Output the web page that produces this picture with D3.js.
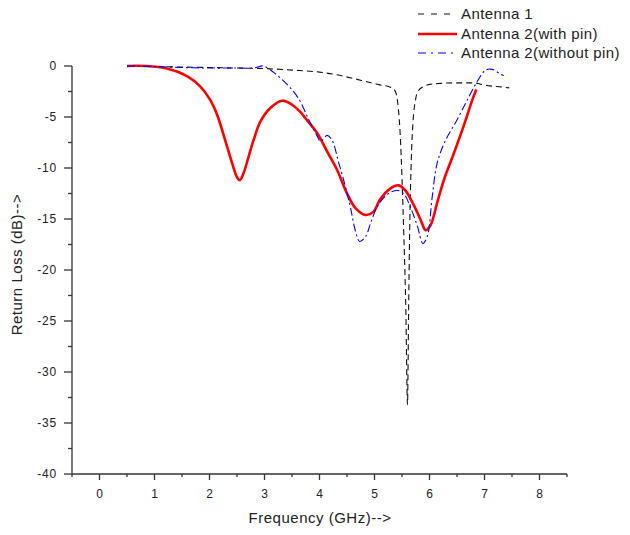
<!DOCTYPE html>
<html><head><meta charset="utf-8">
<script src="https://cdn.jsdelivr.net/npm/d3@7"></script>
<style>body{margin:0;background:#fff}svg{display:block}text{font-family:"Liberation Sans",Arial,sans-serif}</style>
</head><body><svg id="c" width="630" height="535"></svg>
<script>
const xTicks = [0,1,2,3,4,5,6,7,8];
const yTicks = [0,-5,-10,-15,-20,-25,-30,-35,-40];
const seriesNames = ["Antenna 1","Antenna 2(with pin)","Antenna 2(without pin)"];

const ant1Freq = [0.5,1.0,1.5,2.0,2.5,3.0,3.5,4.0,4.3,4.6,4.9,5.1,5.3,5.38,5.43,5.47,5.5,5.53,5.57,5.6,5.62,5.64,5.67,5.7,5.75,5.8,5.9,6.0,6.2,6.5,6.8,6.95,7.1,7.3,7.45];
const ant1Loss = [0,-0.05,-0.1,-0.15,-0.2,-0.25,-0.4,-0.6,-0.85,-1.2,-1.6,-1.85,-2.1,-2.5,-4,-7,-11,-16,-24,-33.2,-24,-16,-9,-5.5,-3.2,-2.4,-2.0,-1.8,-1.7,-1.65,-1.65,-1.8,-1.95,-2.05,-2.15];

const pinFreq = [0.5,0.83,1.23,1.59,1.83,2.01,2.14,2.23,2.32,2.41,2.5,2.55,2.62,2.71,2.8,2.92,3.11,3.32,3.5,3.65,3.77,3.96,4.14,4.32,4.5,4.65,4.84,4.98,5.1,5.29,5.44,5.56,5.71,5.84,5.93,6.02,6.14,6.26,6.44,6.62,6.78,6.85];
const pinLoss = [0,0,-0.25,-1.0,-2.0,-3.3,-4.8,-6.3,-7.9,-9.5,-10.9,-11.2,-10.5,-8.9,-7.3,-5.5,-4.1,-3.4,-3.8,-4.5,-5.3,-6.6,-8.4,-10.2,-12.5,-13.9,-14.6,-14.3,-13.1,-12.0,-11.7,-12.2,-13.6,-15.1,-16.1,-15.6,-13.4,-11.2,-8.6,-5.9,-3.3,-2.3];

const noPinFreq = [0.5,1.0,1.5,2.0,2.5,2.8,2.98,3.16,3.41,3.62,3.8,3.96,4.02,4.14,4.23,4.35,4.47,4.56,4.65,4.73,4.84,4.93,5.05,5.23,5.41,5.53,5.65,5.78,5.88,5.96,6.05,6.14,6.29,6.5,6.69,6.87,7.02,7.14,7.29,7.35];
const noPinLoss = [0,-0.05,-0.15,-0.2,-0.2,-0.2,0,-0.6,-1.8,-3.2,-5.2,-6.9,-7.4,-6.8,-7.3,-9.5,-11.8,-13.8,-16.1,-17.2,-16.7,-15.4,-13.8,-12.6,-12.2,-12.5,-13.8,-15.7,-17.4,-16.7,-12.8,-9.5,-7.3,-5.3,-3.3,-1.5,-0.4,-0.33,-0.8,-0.95];

const svg = d3.select("#c");
const x = d3.scaleLinear().domain([-0.5,8.5]).range([72,567]);
const y = d3.scaleLinear().domain([-40,0]).range([474,66]);
const axisColor = "#333";

// X axis
const xa = svg.append("g").attr("transform","translate(0,474)");
xa.append("line").attr("x1",72).attr("x2",567).attr("stroke",axisColor).attr("stroke-width",1.3);
const xMinor = d3.range(-0.5,8.51,0.5).filter(v=>Math.abs(v-Math.round(v))>0.01);
xa.selectAll(".xmaj").data(xTicks).join("line").attr("x1",d=>x(d)).attr("x2",d=>x(d)).attr("y1",0).attr("y2",6).attr("stroke",axisColor).attr("stroke-width",1.3);
xa.selectAll(".xmin").data(xMinor).join("line").attr("x1",d=>x(d)).attr("x2",d=>x(d)).attr("y1",0).attr("y2",3).attr("stroke",axisColor).attr("stroke-width",1.3);
xa.selectAll(".xl").data(xTicks).join("text").attr("x",d=>x(d)).attr("y",24).attr("text-anchor","middle").attr("font-size",12).attr("fill","#222").text(d=>d);

// Y axis
const ya = svg.append("g").attr("transform","translate(72,0)");
ya.append("line").attr("y1",66).attr("y2",474).attr("stroke",axisColor).attr("stroke-width",1.3);
const yMinor = d3.range(-37.5,0,5);
ya.selectAll(".ymaj").data(yTicks).join("line").attr("y1",d=>y(d)).attr("y2",d=>y(d)).attr("x1",-8).attr("x2",0).attr("stroke",axisColor).attr("stroke-width",1.3);
ya.selectAll(".ymin").data(yMinor).join("line").attr("y1",d=>y(d)).attr("y2",d=>y(d)).attr("x1",-4).attr("x2",0).attr("stroke",axisColor).attr("stroke-width",1.3);
ya.selectAll(".yl").data(yTicks).join("text").attr("x",-15).attr("y",d=>y(d)).attr("dy","0.35em").attr("text-anchor","end").attr("font-size",12).attr("letter-spacing",0.8).attr("fill","#222").text(d=>d);

// Titles
svg.append("text").attr("x",320).attr("y",523).attr("text-anchor","middle").attr("font-size",15).attr("letter-spacing",0.5).attr("fill","#222").text("Frequency (GHz)-->");
svg.append("text").attr("transform","translate(21.5,264.5) rotate(-90)").attr("text-anchor","middle").attr("font-size",15).attr("letter-spacing",0.5).attr("fill","#222").text("Return Loss (dB)-->");

// Lines
const lineMono = d3.line().x(d=>x(d[0])).y(d=>y(d[1])).curve(d3.curveMonotoneX);
const lineSmooth = d3.line().x(d=>x(d[0])).y(d=>y(d[1])).curve(d3.curveCatmullRom.alpha(0.5));
const zipS = (a,b)=>a.map((v,i)=>[v,b[i]]);
const styles = [
  {data:zipS(ant1Freq,ant1Loss), color:"#111", width:1.1, dash:"6,4", gen:lineMono},
  {data:zipS(pinFreq,pinLoss), color:"#ff0000", width:2.6, dash:null, gen:lineSmooth},
  {data:zipS(noPinFreq,noPinLoss), color:"#0000ff", width:1.1, dash:"8,3,2,3", gen:lineSmooth}
];
styles.forEach(s=>{
  const p = svg.append("path").attr("d",s.gen(s.data)).attr("fill","none").attr("stroke",s.color).attr("stroke-width",s.width).attr("stroke-linejoin","round");
  if(s.dash) p.attr("stroke-dasharray",s.dash);
});

// Legend
const lg = svg.append("g");
const rowsY = [14,34,53];
styles.forEach((s,i)=>{
  const l = lg.append("line").attr("x1",418).attr("x2",457).attr("y1",rowsY[i]).attr("y2",rowsY[i]).attr("stroke",s.color).attr("stroke-width",s.width);
  if(s.dash) l.attr("stroke-dasharray", i===0?"6,7":"8,5,2,5");
  lg.append("text").attr("x",461).attr("y",rowsY[i]).attr("dy","0.36em").attr("font-size",15).attr("letter-spacing",0.4).attr("fill","#222").text(seriesNames[i]);
});
</script></body></html>
